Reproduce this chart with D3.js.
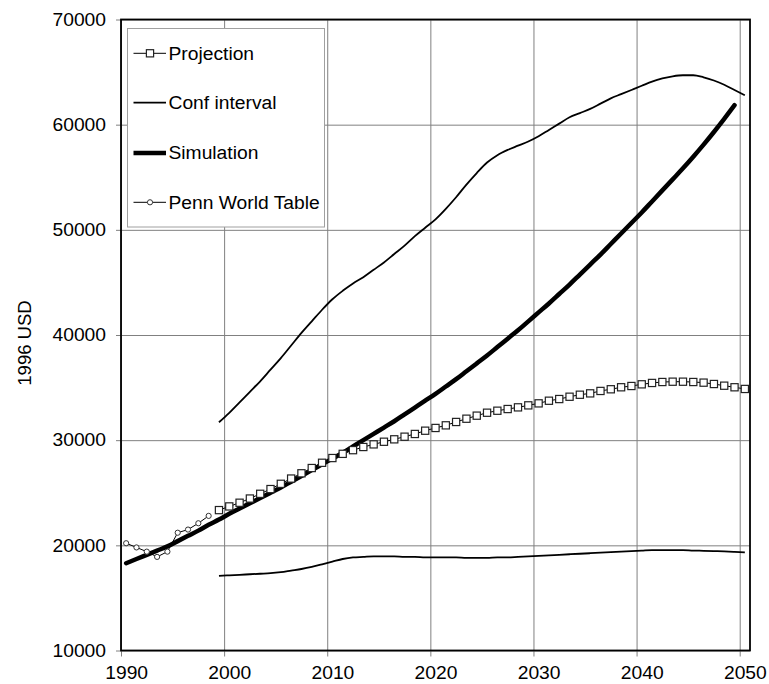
<!DOCTYPE html>
<html>
<head>
<meta charset="utf-8">
<script src="https://cdn.jsdelivr.net/npm/d3@7/dist/d3.min.js"></script>
<style>
  html, body { margin: 0; padding: 0; background: #fff; }
  svg { display: block; font-family: "Liberation Sans", Arial, sans-serif; }
</style>
</head>
<body>
<svg id="chart" width="769" height="684"></svg>
<script>
// GDP per capita paths, 1996 USD
const pennYears = [1990, 1991, 1992, 1993, 1994, 1995, 1996, 1997, 1998];
const pennValues = [20200, 19800, 19400, 18900, 19400, 21200, 21500, 22100, 22800];

const simYears = d3.range(1990, 2050); // 1990..2049
const simValues = [
  18300, 18700, 19100, 19500, 19900, 20400, 20900, 21400, 21950, 22450,
  23000, 23500, 24000, 24500, 25000, 25500, 26050, 26600, 27150, 27700,
  28250, 28800, 29400, 30000, 30600, 31200, 31800, 32450, 33100, 33750,
  34400, 35100, 35800, 36550, 37300, 38050, 38850, 39650, 40450, 41300,
  42150, 43000, 43900, 44800, 45750, 46700, 47650, 48650, 49650, 50650,
  51650, 52700, 53750, 54800, 55850, 56950, 58100, 59300, 60550, 61850
];

const projYears = d3.range(1999, 2051); // 1999..2050
const projValues = [
  23350, 23700, 24050, 24450, 24900, 25350, 25850, 26350, 26850, 27350,
  27850, 28300, 28700, 29050, 29350, 29600, 29850, 30080, 30330, 30590,
  30900, 31160, 31410, 31730, 32040, 32330, 32610, 32800, 32960, 33120,
  33310, 33500, 33750, 33910, 34130, 34320, 34450, 34680, 34840, 35030,
  35150, 35310, 35440, 35530, 35560, 35560, 35530, 35470, 35340, 35180,
  35030, 34870
];

const confYears = d3.range(1999, 2051);
const confUpper = [
  31700, 32600, 33600, 34600, 35600, 36700, 37800, 39000, 40200, 41300,
  42400, 43400, 44200, 44900, 45500, 46200, 46900, 47700, 48500, 49400,
  50200, 51000, 52000, 53100, 54300, 55400, 56400, 57100, 57600, 58000,
  58400, 58900, 59500, 60100, 60700, 61100, 61500, 62000, 62500, 62900,
  63300, 63700, 64100, 64400, 64600, 64700, 64700, 64500, 64200, 63800,
  63300, 62800
];
const confLower = [
  17100, 17150, 17200, 17250, 17300, 17350, 17450, 17600, 17750, 17950,
  18200, 18450, 18700, 18850, 18900, 18950, 18950, 18950, 18900, 18900,
  18850, 18850, 18850, 18850, 18800, 18800, 18800, 18850, 18850, 18900,
  18950, 19000, 19050, 19100, 19150, 19200, 19250, 19300, 19350, 19400,
  19450, 19500, 19550, 19550, 19550, 19550, 19500, 19480, 19450, 19420,
  19380, 19330
];

const xTicks = [1990, 2000, 2010, 2020, 2030, 2040, 2050];
const yTicks = [10000, 20000, 30000, 40000, 50000, 60000, 70000];
const yTitle = "1996 USD";
const legendLabels = ["Projection", "Conf interval", "Simulation", "Penn World Table"];

const svg = d3.select("#chart");
const plotLeft = 121, plotRight = 750, plotTop = 19.5, plotBottom = 650.5;
const fontSize = 18;
const stretch = 1.07; // slightly wide lettering
const fontFamily = "Liberation Sans, Arial, sans-serif";

// Years are categories: each occupies one unit, marks sit at the middle
const x = d3.scaleLinear().domain([1990, 2051]).range([plotLeft, plotRight]);
const half = (x(1991) - x(1990)) / 2;
const y = d3.scaleLinear().domain([10000, 70000]).range([plotBottom, plotTop]);
const px = yr => x(yr) + half;

// Gridlines
svg.append("g")
  .attr("transform", `translate(0,${plotBottom})`)
  .call(d3.axisBottom(x).tickValues(xTicks).tickSize(-(plotBottom - plotTop)).tickFormat(""))
  .call(g => g.select(".domain").remove())
  .call(g => g.selectAll("line").attr("stroke", "#808080").attr("stroke-width", 1));
svg.append("g")
  .attr("transform", `translate(${plotLeft},0)`)
  .call(d3.axisLeft(y).tickValues(yTicks).tickSize(-(plotRight - plotLeft)).tickFormat(""))
  .call(g => g.select(".domain").remove())
  .call(g => g.selectAll("line").attr("stroke", "#808080").attr("stroke-width", 1));

// Axes with tick labels
svg.append("g")
  .attr("transform", `translate(0,${plotBottom})`)
  .call(d3.axisBottom(x).tickValues(xTicks).tickSize(6).tickPadding(10).tickFormat(d3.format("d")))
  .call(g => g.select(".domain").remove())
  .call(g => g.selectAll("line").attr("stroke", "#808080"))
  .call(g => g.selectAll("text").attr("x", half / stretch).attr("fill", "#000")
    .attr("transform", `scale(${stretch},1)`)
    .attr("font-size", fontSize).attr("font-family", fontFamily));
svg.append("g")
  .attr("transform", `translate(${plotLeft},0)`)
  .call(d3.axisLeft(y).tickValues(yTicks).tickSize(5).tickPadding(10).tickFormat(d3.format("d")))
  .call(g => g.select(".domain").remove())
  .call(g => g.selectAll("line").attr("stroke", "#808080"))
  .call(g => g.selectAll("text").attr("x", -15 / stretch).attr("fill", "#000")
    .attr("transform", `scale(${stretch},1)`)
    .attr("font-size", fontSize).attr("font-family", fontFamily));

// Plot frame
svg.append("rect")
  .attr("x", plotLeft).attr("y", plotTop)
  .attr("width", plotRight - plotLeft).attr("height", plotBottom - plotTop)
  .attr("fill", "none").attr("stroke", "#000").attr("stroke-width", 1.8);

// Y title
svg.append("text")
  .attr("transform", `translate(31,343) rotate(-90)`)
  .attr("text-anchor", "middle")
  .attr("font-size", 18.5)
  .attr("fill", "#000")
  .text(yTitle);

const line = d3.line().x(d => px(d[0])).y(d => y(d[1])).curve(d3.curveMonotoneX);
const zip = (a, b) => a.map((v, i) => [v, b[i]]);

// Confidence interval
[confUpper, confLower].forEach(vals => {
  svg.append("path").datum(zip(confYears, vals))
    .attr("d", line).attr("fill", "none")
    .attr("stroke", "#000").attr("stroke-width", 1.8);
});

// Simulation
svg.append("path").datum(zip(simYears, simValues))
  .attr("d", line).attr("fill", "none")
  .attr("stroke", "#000").attr("stroke-width", 4.5).attr("stroke-linecap", "round");

// Projection
const projData = zip(projYears, projValues);
svg.append("path").datum(projData)
  .attr("d", d3.line().x(d => px(d[0])).y(d => y(d[1])))
  .attr("fill", "none").attr("stroke", "#000").attr("stroke-width", 1);
const sq = 7.2;
svg.append("g").selectAll("rect").data(projData).join("rect")
  .attr("x", d => px(d[0]) - sq / 2).attr("y", d => y(d[1]) - sq / 2)
  .attr("width", sq).attr("height", sq)
  .attr("fill", "#fff").attr("stroke", "#222").attr("stroke-width", 1.2);

// Penn World Table
const pennData = zip(pennYears, pennValues);
svg.append("path").datum(pennData)
  .attr("d", d3.line().x(d => px(d[0])).y(d => y(d[1])))
  .attr("fill", "none").attr("stroke", "#000").attr("stroke-width", 1);
svg.append("g").selectAll("circle").data(pennData).join("circle")
  .attr("cx", d => px(d[0])).attr("cy", d => y(d[1])).attr("r", 2.6)
  .attr("fill", "#fff").attr("stroke", "#333").attr("stroke-width", 1);

// Legend
const lg = svg.append("g");
lg.append("rect").attr("x", 127.5).attr("y", 28.5).attr("width", 197).attr("height", 198.5)
  .attr("fill", "#fff").attr("stroke", "#a0a0a0").attr("stroke-width", 1);
const rowY = [53.3, 102.7, 153, 202.3];
const lx0 = 133.5, lx1 = 166, lmid = 150;
legendLabels.forEach((lab, i) => {
  const yy = rowY[i];
  lg.append("line").attr("x1", lx0).attr("x2", lx1).attr("y1", yy).attr("y2", yy)
    .attr("stroke", "#000").attr("stroke-width", i === 2 ? 4.5 : (i === 1 ? 1.8 : 1));
  if (i === 0) {
    lg.append("rect").attr("x", lmid - sq / 2).attr("y", yy - sq / 2)
      .attr("width", sq).attr("height", sq)
      .attr("fill", "#fff").attr("stroke", "#222").attr("stroke-width", 1.2);
  }
  if (i === 3) {
    lg.append("circle").attr("cx", lmid).attr("cy", yy).attr("r", 2.6)
      .attr("fill", "#fff").attr("stroke", "#333").attr("stroke-width", 1);
  }
  lg.append("text")
    .attr("transform", `translate(168.5,${yy + 6.3}) scale(${stretch},1)`)
    .attr("font-size", fontSize).attr("fill", "#000").text(lab);
});
</script>
</body>
</html>
